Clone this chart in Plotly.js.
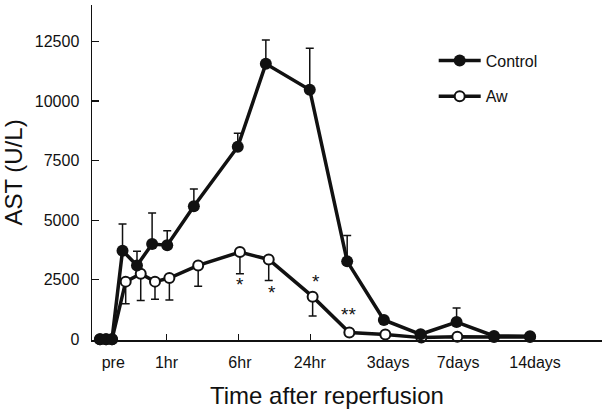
<!DOCTYPE html>
<html>
<head>
<meta charset="utf-8">
<script src="https://cdn.plot.ly/plotly-3.0.1.min.js"></script>
<style>html,body{margin:0;padding:0;background:#fff;}#chart{width:609px;height:418px;}</style>
</head>
<body>
<div id="chart"></div>
<script>
// Time positions (axis units: 1hr=1, 6hr=2, 24hr=3, ...)
const controlX = [0.076, 0.16, 0.243, 0.389, 0.59, 0.80, 1.01, 1.38, 1.99, 2.38, 2.99, 3.51, 4.02, 4.53, 5.03, 5.55, 6.05];
const controlY = [0, 0, 0, 3720, 3100, 4000, 3950, 5580, 8080, 11560, 10470, 3270, 810, 210, 725, 140, 125];
const controlErrPlus = [0, 0, 0, 1120, 600, 1300, 600, 730, 570, 1000, 1740, 1090, 0, 0, 590, 0, 0];

const awX = [0.076, 0.16, 0.243, 0.433, 0.642, 0.84, 1.04, 1.44, 2.02, 2.42, 3.03, 3.54, 4.04, 4.54, 5.04, 5.55, 6.05];
const awY = [0, 0, 0, 2420, 2750, 2420, 2570, 3100, 3660, 3350, 1790, 280, 200, 70, 110, 100, 100];
const awErrMinus = [0, 0, 0, 925, 1120, 740, 925, 870, 910, 880, 815, 0, 0, 0, 0, 0, 0];

const tickMarkPos = [1, 2, 3];
const tickLabelPos = [0.26, 1.0, 2.02, 2.99, 4.08, 5.05, 6.12];
const tickLabels = ['pre', '1hr', '6hr', '24hr', '3days', '7days', '14days'];

const yTicks = [0, 2500, 5000, 7500, 10000, 12500];
const yTickLabels = ['0', '2500', '5000', '7500', '10000', '12500'];

const starX = [2.02, 2.47, 3.08, 3.53];
const starY = [2300, 1970, 2430, 1050];
const starText = ['*', '*', '*', '**'];

const FONT = 'Liberation Sans, Arial, Helvetica, sans-serif';
const xRange = [-0.035, 7.05];

const awTrace = {
  x: awX, y: awY, name: 'Aw', type: 'scatter', mode: 'lines+markers',
  legendrank: 2, legendgroup: 'b',
  line: {color: '#111', width: 3.5},
  marker: {symbol: 'circle', size: 10, color: '#fff', line: {color: '#111', width: 2}},
  error_y: {type: 'data', symmetric: false, array: awY.map(() => 0), arrayminus: awErrMinus,
            color: '#111', thickness: 1.5, width: 4},
  cliponaxis: false
};
const controlTrace = {
  x: controlX, y: controlY, name: 'Control', type: 'scatter', mode: 'lines+markers',
  legendrank: 1, legendgroup: 'a',
  line: {color: '#111', width: 3.5},
  marker: {symbol: 'circle', size: 12, color: '#111'},
  error_y: {type: 'data', symmetric: false, array: controlErrPlus, arrayminus: controlY.map(() => 0),
            color: '#111', thickness: 1.5, width: 4},
  cliponaxis: false
};

const annotations = starX.map((x, i) => ({
  x: x, y: starY[i], xref: 'x', yref: 'y', text: starText[i], showarrow: false,
  font: {family: FONT, size: 19, color: '#111'}
}));
annotations.push({
  x: 0.46, y: -0.165, xref: 'paper', yref: 'paper', text: 'Time after reperfusion',
  showarrow: false, xanchor: 'center', yanchor: 'middle',
  font: {family: FONT, size: 24, color: '#111'}
});

const layout = {
  width: 609, height: 418,
  margin: {l: 92, r: 7, t: 5, b: 78},
  paper_bgcolor: '#fff', plot_bgcolor: '#fff',
  font: {family: FONT, color: '#111', size: 16},
  showlegend: true,
  legend: {x: 0.67, y: 0.885, xanchor: 'left', yanchor: 'top', bgcolor: 'rgba(0,0,0,0)',
           font: {family: FONT, size: 16, color: '#111'}, tracegroupgap: 12, itemwidth: 42},
  xaxis: {
    range: xRange, showgrid: false, zeroline: false, showline: true, linecolor: '#111', linewidth: 1.5,
    tickmode: 'array', tickvals: tickMarkPos, ticktext: tickMarkPos.map(() => ''),
    ticks: 'inside', ticklen: 6, tickwidth: 1.2, tickcolor: '#111', mirror: false
  },
  xaxis2: {
    range: xRange, overlaying: 'x', anchor: 'y', side: 'bottom', showgrid: false, zeroline: false,
    showline: false, tickmode: 'array', tickvals: tickLabelPos, ticktext: tickLabels, ticks: '',
    ticklabelstandoff: 11, tickfont: {family: FONT, size: 16, color: '#111'}
  },
  yaxis: {
    range: [-30, 14030], showgrid: false, zeroline: false, showline: true, linecolor: '#111', linewidth: 1.5,
    tickmode: 'array', tickvals: yTicks, ticktext: yTickLabels, ticks: 'inside', ticklen: 7, tickwidth: 1.2, tickcolor: '#111',
    ticklabelstandoff: 8, tickfont: {family: FONT, size: 16, color: '#111'},
    title: {text: 'AST (U/L)', font: {family: FONT, size: 24, color: '#111'}, standoff: 6}
  },
  annotations: annotations
};

// invisible helper trace so that xaxis2 (the tick labels) is drawn
const axisTrace = {x: [tickLabelPos[0]], y: [0], xaxis: 'x2', yaxis: 'y', mode: 'markers',
  marker: {opacity: 0}, showlegend: false, hoverinfo: 'skip'};

Plotly.newPlot('chart', [awTrace, controlTrace, axisTrace], layout, {staticPlot: true, displayModeBar: false});
</script>
</body>
</html>
